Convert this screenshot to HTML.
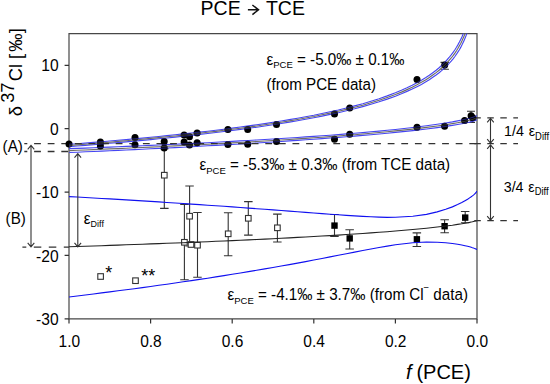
<!DOCTYPE html>
<html><head><meta charset="utf-8"><style>
html,body{margin:0;padding:0;background:#fff;}
body{width:550px;height:384px;overflow:hidden;font-family:"Liberation Sans",sans-serif;}
svg{display:block;}
</style></head><body>
<svg width="550" height="384" viewBox="0 0 550 384" font-family="Liberation Sans, sans-serif">
<defs><clipPath id="pc"><rect x="69" y="33.6" width="408" height="285.3"/></clipPath></defs>
<rect x="0" y="0" width="550" height="384" fill="#fff"/>
<path d="M69 33.6H477V318.9H69Z" fill="none" stroke="#474747" stroke-width="1.2"/>
<path d="M64.6 65.32H69M64.6 128.70H69M64.6 192.08H69M64.6 255.46H69M64.6 318.84H69M69.00 318.9V323.6M150.60 318.9V323.6M232.20 318.9V323.6M313.80 318.9V323.6M395.40 318.9V323.6M477.00 318.9V323.6" stroke="#333" stroke-width="1.2"/>
<path d="M164.3 148.8V208.4M160.1 148.8h8.5M160.1 208.4h8.5M189.6 186.0V246.0M185.3 186.0h8.5M185.3 246.0h8.5M184.4 204.4V279.7M180.2 204.4h8.5M180.2 279.7h8.5M197.5 212.5V277.2M193.2 212.5h8.5M193.2 277.2h8.5M228.2 212.7V255.7M223.9 212.7h8.5M223.9 255.7h8.5M248.3 201.6V235.1M244.1 201.6h8.5M244.1 235.1h8.5M277.4 214.1V242.0M273.1 214.1h8.5M273.1 242.0h8.5M334.5 214.5V236.4M330.2 214.5h8.5M330.2 236.4h8.5M349.7 229.7V249.0M345.4 229.7h8.5M345.4 249.0h8.5M416.9 232.9V246.5M412.6 232.9h8.5M412.6 246.5h8.5M444.6 219.7V232.8M440.4 219.7h8.5M440.4 232.8h8.5M465.2 211.5V222.7M460.9 211.5h8.5M460.9 222.7h8.5M444.7 62.4V69.2M440.5 62.4h8.4M440.5 69.2h8.4M471 111.3V122.5M467 111.3h8M467 122.5h8" stroke="#333" stroke-width="1.1" fill="none"/>
<rect x="161.5" y="172.4" width="5.6" height="5.6" fill="#fff" stroke="#333" stroke-width="1.1"/>
<rect x="186.8" y="213.4" width="5.6" height="5.6" fill="#fff" stroke="#333" stroke-width="1.1"/>
<rect x="181.6" y="239.5" width="5.6" height="5.6" fill="#fff" stroke="#333" stroke-width="1.1"/>
<rect x="194.7" y="242.4" width="5.6" height="5.6" fill="#fff" stroke="#333" stroke-width="1.1"/>
<rect x="225.4" y="231.0" width="5.6" height="5.6" fill="#fff" stroke="#333" stroke-width="1.1"/>
<rect x="245.5" y="215.5" width="5.6" height="5.6" fill="#fff" stroke="#333" stroke-width="1.1"/>
<rect x="274.6" y="225.0" width="5.6" height="5.6" fill="#fff" stroke="#333" stroke-width="1.1"/>
<rect x="188.2" y="241.7" width="5.6" height="5.6" fill="#fff" stroke="#333" stroke-width="1.1"/>
<rect x="97.8" y="273.7" width="5.6" height="5.6" fill="#fff" stroke="#333" stroke-width="1.1"/>
<rect x="132.7" y="277.9" width="5.6" height="5.6" fill="#fff" stroke="#333" stroke-width="1.1"/>
<rect x="331.3" y="222.4" width="6.4" height="6.4" fill="#000"/>
<rect x="346.5" y="235.2" width="6.4" height="6.4" fill="#000"/>
<rect x="413.7" y="236.1" width="6.4" height="6.4" fill="#000"/>
<rect x="441.4" y="223.0" width="6.4" height="6.4" fill="#000"/>
<rect x="462.0" y="214.4" width="6.4" height="6.4" fill="#000"/>
<g clip-path="url(#pc)" fill="none" stroke-width="1.15">
<path d="M69.0 196.6L77.2 197.0L85.3 197.5L93.5 198.0L101.6 198.5L109.8 198.9L118.0 199.4L126.1 199.9L134.3 200.4L142.4 200.9L150.6 201.4L158.8 201.9L166.9 202.5L175.1 203.0L183.2 203.5L191.4 204.1L199.6 204.6L207.7 205.2L215.9 205.8L224.0 206.3L232.2 206.9L240.4 207.5L248.5 208.1L256.7 208.7L264.8 209.3L273.0 209.9L281.2 210.5L289.3 211.1L297.5 211.8L305.6 212.4L313.8 213.0L322.0 213.6L330.1 214.2L338.3 214.8L346.4 215.4L354.6 215.9L362.8 216.4L370.9 216.8L379.1 217.1L387.2 217.3L395.4 217.2L412.8 216.3L426.5 214.4L437.2 211.9L445.7 209.3L452.4 206.9L457.6 204.6L461.8 202.6L465.0 200.8L467.6 199.3L469.6 197.9L471.2 196.8L472.4 195.9L473.4 195.1L474.2 194.4L474.8 193.8L475.2 193.4L475.6 193.0L475.9 192.6L476.1 192.4L476.3 192.2L476.5 192.0L476.6 191.8L476.7 191.7L476.7 191.6L476.8 191.5L477.0 191.2" stroke="#1010f0"/>
<path d="M69.0 297.0L77.2 296.0L85.3 295.0L93.5 294.0L101.6 292.9L109.8 291.9L118.0 290.8L126.1 289.8L134.3 288.7L142.4 287.6L150.6 286.5L158.8 285.3L166.9 284.2L175.1 283.0L183.2 281.8L191.4 280.6L199.6 279.4L207.7 278.2L215.9 276.9L224.0 275.6L232.2 274.3L240.4 273.0L248.5 271.6L256.7 270.3L264.8 268.9L273.0 267.5L281.2 266.0L289.3 264.6L297.5 263.1L305.6 261.6L313.8 260.0L322.0 258.5L330.1 256.9L338.3 255.3L346.4 253.7L354.6 252.1L362.8 250.5L370.9 249.0L379.1 247.5L387.2 246.1L395.4 244.8L412.8 242.7L426.5 242.0L437.2 242.2L445.7 242.7L452.4 243.5L457.6 244.2L461.8 245.0L465.0 245.7L467.6 246.3L469.6 246.8L471.2 247.3L472.4 247.7L473.4 248.0L474.2 248.3L474.8 248.5L475.2 248.7L475.6 248.9L475.9 249.0L476.1 249.1L476.3 249.2L476.5 249.3L476.6 249.4L476.7 249.4L476.7 249.5L476.8 249.5L477.0 249.6" stroke="#1010f0"/>
<path d="M69.0 246.8L77.2 246.5L85.3 246.2L93.5 246.0L101.6 245.7L109.8 245.4L118.0 245.1L126.1 244.8L134.3 244.5L142.4 244.2L150.6 243.9L158.8 243.6L166.9 243.3L175.1 243.0L183.2 242.7L191.4 242.4L199.6 242.0L207.7 241.7L215.9 241.3L224.0 241.0L232.2 240.6L240.4 240.2L248.5 239.9L256.7 239.5L264.8 239.1L273.0 238.7L281.2 238.3L289.3 237.9L297.5 237.4L305.6 237.0L313.8 236.5L322.0 236.0L330.1 235.6L338.3 235.1L346.4 234.5L354.6 234.0L362.8 233.5L370.9 232.9L379.1 232.3L387.2 231.7L395.4 231.0L412.8 229.5L426.5 228.2L437.2 227.0L445.7 226.0L452.4 225.2L457.6 224.4L461.8 223.8L465.0 223.2L467.6 222.8L469.6 222.4L471.2 222.0L472.4 221.8L473.4 221.5L474.2 221.3L474.8 221.2L475.2 221.0L475.6 220.9L475.9 220.8L476.1 220.8L476.3 220.7L476.5 220.6L476.6 220.6L476.7 220.6L476.7 220.5L476.8 220.5L477.0 220.4" stroke="#222"/>
<path d="M69.0 144.3L77.2 143.7L85.3 143.1L93.5 142.4L101.6 141.7L109.8 141.0L118.0 140.3L126.1 139.6L134.3 138.8L142.4 138.1L150.6 137.3L158.8 136.5L166.9 135.6L175.1 134.8L183.2 133.9L191.4 133.0L199.6 132.1L207.7 131.2L215.9 130.2L224.0 129.2L232.2 128.1L240.4 127.0L248.5 125.9L256.7 124.8L264.8 123.6L273.0 122.3L281.2 121.0L289.3 119.6L297.5 118.2L305.6 116.7L313.8 115.2L322.0 113.5L330.1 111.8L338.3 110.0L346.4 108.0L354.6 105.9L362.8 103.7L370.9 101.3L379.1 98.7L387.2 95.9L395.4 92.8L401.4 90.3L407.0 87.8L412.2 85.3L417.0 82.8L421.4 80.3L425.5 77.8L429.3 75.3L432.8 72.7L436.1 70.2L439.1 67.7L441.9 65.1L444.5 62.6L446.9 60.0L449.1 57.5L451.2 54.9L453.1 52.3L454.9 49.8L456.5 47.2L458.0 44.6L459.4 42.0L460.7 39.4L461.9 36.9L463.0 34.3L464.1 31.6L465.0 29.0L465.9 26.4L466.7 23.8L467.5 21.2L468.2 18.5L468.8 15.9" stroke="#4646f2"/>
<path d="M69.0 146.6L77.2 146.0L85.3 145.4L93.5 144.7L101.6 144.0L109.8 143.3L118.0 142.6L126.1 141.9L134.3 141.1L142.4 140.4L150.6 139.6L158.8 138.8L166.9 138.0L175.1 137.1L183.2 136.2L191.4 135.4L199.6 134.4L207.7 133.5L215.9 132.5L224.0 131.5L232.2 130.5L240.4 129.4L248.5 128.3L256.7 127.2L264.8 126.0L273.0 124.8L281.2 123.5L289.3 122.1L297.5 120.7L305.6 119.3L313.8 117.7L322.0 116.1L330.1 114.4L338.3 112.7L346.4 110.8L354.6 108.8L362.8 106.6L370.9 104.3L379.1 101.8L387.2 99.1L395.4 96.2L401.4 93.8L407.0 91.4L412.2 89.1L417.0 86.7L421.4 84.4L425.5 82.0L429.3 79.7L432.8 77.3L436.1 75.0L439.1 72.7L441.9 70.4L444.5 68.0L446.9 65.7L449.1 63.4L451.2 61.1L453.1 58.8L454.9 56.5L456.5 54.2L458.0 51.9L459.4 49.7L460.7 47.4L461.9 45.1L463.0 42.8L464.1 40.6L465.0 38.3L465.9 36.1L466.7 33.9L467.5 31.6L468.2 29.4L468.8 27.2" stroke="#4646f2"/>
<path d="M69.0 145.5L77.2 144.9L85.3 144.2L93.5 143.5L101.6 142.9L109.8 142.2L118.0 141.4L126.1 140.7L134.3 140.0L142.4 139.2L150.6 138.4L158.8 137.6L166.9 136.8L175.1 136.0L183.2 135.1L191.4 134.2L199.6 133.3L207.7 132.3L215.9 131.4L224.0 130.3L232.2 129.3L240.4 128.2L248.5 127.1L256.7 126.0L264.8 124.8L273.0 123.5L281.2 122.2L289.3 120.9L297.5 119.5L305.6 118.0L313.8 116.5L322.0 114.8L330.1 113.1L338.3 111.3L346.4 109.4L354.6 107.3L362.8 105.2L370.9 102.8L379.1 100.3L387.2 97.5L395.4 94.5L401.4 92.1L407.0 89.6L412.2 87.2L417.0 84.8L421.4 82.3L425.5 79.9L429.3 77.5L432.8 75.0L436.1 72.6L439.1 70.2L441.9 67.7L444.5 65.3L446.9 62.9L449.1 60.4L451.2 58.0L453.1 55.6L454.9 53.1L456.5 50.7L458.0 48.3L459.4 45.8L460.7 43.4L461.9 41.0L463.0 38.5L464.1 36.1L465.0 33.7L465.9 31.3L466.7 28.8L467.5 26.4L468.2 24.0L468.8 21.5" stroke="#6e6e66"/>
<path d="M69.0 148.7L77.2 148.4L85.3 148.1L93.5 147.8L101.6 147.4L109.8 147.1L118.0 146.8L126.1 146.4L134.3 146.1L142.4 145.7L150.6 145.4L158.8 145.0L166.9 144.6L175.1 144.3L183.2 143.9L191.4 143.5L199.6 143.1L207.7 142.7L215.9 142.2L224.0 141.8L232.2 141.4L240.4 140.9L248.5 140.5L256.7 140.0L264.8 139.5L273.0 139.0L281.2 138.5L289.3 138.0L297.5 137.5L305.6 136.9L313.8 136.4L322.0 135.8L330.1 135.2L338.3 134.6L346.4 133.9L354.6 133.3L362.8 132.6L370.9 131.8L379.1 131.1L387.2 130.3L395.4 129.5L412.8 127.5L426.5 125.8L437.2 124.3L445.7 123.0L452.4 121.9L457.6 120.9L461.8 120.0L465.0 119.3L467.6 118.7L469.6 118.2L471.2 117.7L472.4 117.4L473.4 117.1L474.2 116.8L474.8 116.6L475.2 116.4L475.6 116.2L475.9 116.1L476.1 116.0L476.3 115.9L476.5 115.9L476.6 115.8L476.7 115.8L476.7 115.7L476.8 115.7L477.0 115.6" stroke="#4646f2"/>
<path d="M69.0 152.5L77.2 152.2L85.3 151.8L93.5 151.5L101.6 151.1L109.8 150.7L118.0 150.4L126.1 150.0L134.3 149.6L142.4 149.2L150.6 148.8L158.8 148.4L166.9 148.0L175.1 147.6L183.2 147.2L191.4 146.7L199.6 146.3L207.7 145.8L215.9 145.4L224.0 144.9L232.2 144.5L240.4 144.0L248.5 143.5L256.7 143.0L264.8 142.5L273.0 142.0L281.2 141.5L289.3 140.9L297.5 140.4L305.6 139.8L313.8 139.2L322.0 138.6L330.1 138.0L338.3 137.4L346.4 136.8L354.6 136.1L362.8 135.4L370.9 134.7L379.1 134.0L387.2 133.2L395.4 132.4L412.8 130.6L426.5 129.0L437.2 127.6L445.7 126.4L452.4 125.4L457.6 124.5L461.8 123.7L465.0 123.1L467.6 122.5L469.6 122.1L471.2 121.7L472.4 121.4L473.4 121.1L474.2 120.9L474.8 120.7L475.2 120.5L475.6 120.4L475.9 120.3L476.1 120.2L476.3 120.1L476.5 120.0L476.6 120.0L476.7 120.0L476.7 119.9L476.8 119.9L477.0 119.8" stroke="#4646f2"/>
<path d="M69.0 150.6L77.2 150.3L85.3 150.0L93.5 149.6L101.6 149.3L109.8 148.9L118.0 148.6L126.1 148.2L134.3 147.8L142.4 147.5L150.6 147.1L158.8 146.7L166.9 146.3L175.1 145.9L183.2 145.5L191.4 145.1L199.6 144.7L207.7 144.3L215.9 143.8L224.0 143.4L232.2 142.9L240.4 142.5L248.5 142.0L256.7 141.5L264.8 141.0L273.0 140.5L281.2 140.0L289.3 139.5L297.5 138.9L305.6 138.4L313.8 137.8L322.0 137.2L330.1 136.6L338.3 136.0L346.4 135.3L354.6 134.7L362.8 134.0L370.9 133.3L379.1 132.5L387.2 131.7L395.4 130.9L412.8 129.1L426.5 127.4L437.2 126.0L445.7 124.7L452.4 123.6L457.6 122.7L461.8 121.9L465.0 121.2L467.6 120.6L469.6 120.1L471.2 119.7L472.4 119.4L473.4 119.1L474.2 118.8L474.8 118.6L475.2 118.5L475.6 118.3L475.9 118.2L476.1 118.1L476.3 118.0L476.5 118.0L476.6 117.9L476.7 117.9L476.7 117.8L476.8 117.8L477.0 117.7" stroke="#6e6e66"/>
</g>
<line x1="24.3" y1="143.7" x2="476" y2="143.7" stroke="#333" stroke-width="1.3" stroke-dasharray="6.8 6.8" stroke-dashoffset="3.8"/>
<line x1="474.3" y1="117.9" x2="518" y2="117.9" stroke="#333" stroke-width="1.3" stroke-dasharray="6.5 6.5"/>
<line x1="474.3" y1="143.7" x2="518" y2="143.7" stroke="#333" stroke-width="1.3" stroke-dasharray="6.5 6.5"/>
<line x1="474.3" y1="220.6" x2="518" y2="220.6" stroke="#333" stroke-width="1.3" stroke-dasharray="6.5 6.5"/>
<line x1="24.3" y1="151.5" x2="69" y2="151.5" stroke="#333" stroke-width="1.3" stroke-dasharray="6.8 6.8" stroke-dashoffset="3.8"/>
<line x1="22.4" y1="247.2" x2="69" y2="247.2" stroke="#333" stroke-width="1.3" stroke-dasharray="7.5 7.5" stroke-dashoffset="3.6"/>
<g fill="#000"><circle cx="69.0" cy="143.9" r="3.5"/><circle cx="100.4" cy="142.0" r="3.5"/><circle cx="100.4" cy="146.0" r="3.5"/><circle cx="135.0" cy="137.4" r="3.5"/><circle cx="135.0" cy="144.8" r="3.5"/><circle cx="164.2" cy="141.4" r="3.5"/><circle cx="164.2" cy="147.9" r="3.5"/><circle cx="184.1" cy="135.0" r="3.5"/><circle cx="184.1" cy="141.9" r="3.5"/><circle cx="189.5" cy="136.8" r="3.5"/><circle cx="189.5" cy="145.0" r="3.5"/><circle cx="197.1" cy="132.9" r="3.5"/><circle cx="197.1" cy="142.7" r="3.5"/><circle cx="227.9" cy="129.6" r="3.5"/><circle cx="227.9" cy="144.5" r="3.5"/><circle cx="247.7" cy="129.6" r="3.5"/><circle cx="247.7" cy="144.3" r="3.5"/><circle cx="276.5" cy="124.6" r="3.5"/><circle cx="276.5" cy="141.6" r="3.5"/><circle cx="334.5" cy="113.9" r="3.5"/><circle cx="334.5" cy="139.2" r="3.5"/><circle cx="349.7" cy="108.0" r="3.5"/><circle cx="349.7" cy="134.2" r="3.5"/><circle cx="417.0" cy="79.5" r="3.5"/><circle cx="417.0" cy="127.3" r="3.5"/><circle cx="444.7" cy="65.0" r="3.5"/><circle cx="444.6" cy="126.2" r="3.5"/><circle cx="464.6" cy="120.6" r="3.5"/><circle cx="471.1" cy="115.8" r="3.5"/><circle cx="472.7" cy="117.7" r="3.5"/></g>
<clipPath id="cc"><circle cx="69.0" cy="143.9" r="3.5"/><circle cx="100.4" cy="142.0" r="3.5"/><circle cx="100.4" cy="146.0" r="3.5"/><circle cx="135.0" cy="137.4" r="3.5"/><circle cx="135.0" cy="144.8" r="3.5"/><circle cx="164.2" cy="141.4" r="3.5"/><circle cx="164.2" cy="147.9" r="3.5"/><circle cx="184.1" cy="135.0" r="3.5"/><circle cx="184.1" cy="141.9" r="3.5"/><circle cx="189.5" cy="136.8" r="3.5"/><circle cx="189.5" cy="145.0" r="3.5"/><circle cx="197.1" cy="132.9" r="3.5"/><circle cx="197.1" cy="142.7" r="3.5"/><circle cx="227.9" cy="129.6" r="3.5"/><circle cx="227.9" cy="144.5" r="3.5"/><circle cx="247.7" cy="129.6" r="3.5"/><circle cx="247.7" cy="144.3" r="3.5"/><circle cx="276.5" cy="124.6" r="3.5"/><circle cx="276.5" cy="141.6" r="3.5"/><circle cx="334.5" cy="113.9" r="3.5"/><circle cx="334.5" cy="139.2" r="3.5"/><circle cx="349.7" cy="108.0" r="3.5"/><circle cx="349.7" cy="134.2" r="3.5"/><circle cx="417.0" cy="79.5" r="3.5"/><circle cx="417.0" cy="127.3" r="3.5"/><circle cx="444.7" cy="65.0" r="3.5"/><circle cx="444.6" cy="126.2" r="3.5"/><circle cx="464.6" cy="120.6" r="3.5"/><circle cx="471.1" cy="115.8" r="3.5"/><circle cx="472.7" cy="117.7" r="3.5"/></clipPath>
<g clip-path="url(#cc)" fill="none" stroke-width="1.15" opacity="0.45"><path d="M69.0 144.3L77.2 143.7L85.3 143.1L93.5 142.4L101.6 141.7L109.8 141.0L118.0 140.3L126.1 139.6L134.3 138.8L142.4 138.1L150.6 137.3L158.8 136.5L166.9 135.6L175.1 134.8L183.2 133.9L191.4 133.0L199.6 132.1L207.7 131.2L215.9 130.2L224.0 129.2L232.2 128.1L240.4 127.0L248.5 125.9L256.7 124.8L264.8 123.6L273.0 122.3L281.2 121.0L289.3 119.6L297.5 118.2L305.6 116.7L313.8 115.2L322.0 113.5L330.1 111.8L338.3 110.0L346.4 108.0L354.6 105.9L362.8 103.7L370.9 101.3L379.1 98.7L387.2 95.9L395.4 92.8L401.4 90.3L407.0 87.8L412.2 85.3L417.0 82.8L421.4 80.3L425.5 77.8L429.3 75.3L432.8 72.7L436.1 70.2L439.1 67.7L441.9 65.1L444.5 62.6L446.9 60.0L449.1 57.5L451.2 54.9L453.1 52.3L454.9 49.8L456.5 47.2L458.0 44.6L459.4 42.0L460.7 39.4L461.9 36.9L463.0 34.3L464.1 31.6L465.0 29.0L465.9 26.4L466.7 23.8L467.5 21.2L468.2 18.5L468.8 15.9" stroke="#4646f2"/><path d="M69.0 146.6L77.2 146.0L85.3 145.4L93.5 144.7L101.6 144.0L109.8 143.3L118.0 142.6L126.1 141.9L134.3 141.1L142.4 140.4L150.6 139.6L158.8 138.8L166.9 138.0L175.1 137.1L183.2 136.2L191.4 135.4L199.6 134.4L207.7 133.5L215.9 132.5L224.0 131.5L232.2 130.5L240.4 129.4L248.5 128.3L256.7 127.2L264.8 126.0L273.0 124.8L281.2 123.5L289.3 122.1L297.5 120.7L305.6 119.3L313.8 117.7L322.0 116.1L330.1 114.4L338.3 112.7L346.4 110.8L354.6 108.8L362.8 106.6L370.9 104.3L379.1 101.8L387.2 99.1L395.4 96.2L401.4 93.8L407.0 91.4L412.2 89.1L417.0 86.7L421.4 84.4L425.5 82.0L429.3 79.7L432.8 77.3L436.1 75.0L439.1 72.7L441.9 70.4L444.5 68.0L446.9 65.7L449.1 63.4L451.2 61.1L453.1 58.8L454.9 56.5L456.5 54.2L458.0 51.9L459.4 49.7L460.7 47.4L461.9 45.1L463.0 42.8L464.1 40.6L465.0 38.3L465.9 36.1L466.7 33.9L467.5 31.6L468.2 29.4L468.8 27.2" stroke="#4646f2"/><path d="M69.0 145.5L77.2 144.9L85.3 144.2L93.5 143.5L101.6 142.9L109.8 142.2L118.0 141.4L126.1 140.7L134.3 140.0L142.4 139.2L150.6 138.4L158.8 137.6L166.9 136.8L175.1 136.0L183.2 135.1L191.4 134.2L199.6 133.3L207.7 132.3L215.9 131.4L224.0 130.3L232.2 129.3L240.4 128.2L248.5 127.1L256.7 126.0L264.8 124.8L273.0 123.5L281.2 122.2L289.3 120.9L297.5 119.5L305.6 118.0L313.8 116.5L322.0 114.8L330.1 113.1L338.3 111.3L346.4 109.4L354.6 107.3L362.8 105.2L370.9 102.8L379.1 100.3L387.2 97.5L395.4 94.5L401.4 92.1L407.0 89.6L412.2 87.2L417.0 84.8L421.4 82.3L425.5 79.9L429.3 77.5L432.8 75.0L436.1 72.6L439.1 70.2L441.9 67.7L444.5 65.3L446.9 62.9L449.1 60.4L451.2 58.0L453.1 55.6L454.9 53.1L456.5 50.7L458.0 48.3L459.4 45.8L460.7 43.4L461.9 41.0L463.0 38.5L464.1 36.1L465.0 33.7L465.9 31.3L466.7 28.8L467.5 26.4L468.2 24.0L468.8 21.5" stroke="#6e6e66"/><path d="M69.0 148.7L77.2 148.4L85.3 148.1L93.5 147.8L101.6 147.4L109.8 147.1L118.0 146.8L126.1 146.4L134.3 146.1L142.4 145.7L150.6 145.4L158.8 145.0L166.9 144.6L175.1 144.3L183.2 143.9L191.4 143.5L199.6 143.1L207.7 142.7L215.9 142.2L224.0 141.8L232.2 141.4L240.4 140.9L248.5 140.5L256.7 140.0L264.8 139.5L273.0 139.0L281.2 138.5L289.3 138.0L297.5 137.5L305.6 136.9L313.8 136.4L322.0 135.8L330.1 135.2L338.3 134.6L346.4 133.9L354.6 133.3L362.8 132.6L370.9 131.8L379.1 131.1L387.2 130.3L395.4 129.5L412.8 127.5L426.5 125.8L437.2 124.3L445.7 123.0L452.4 121.9L457.6 120.9L461.8 120.0L465.0 119.3L467.6 118.7L469.6 118.2L471.2 117.7L472.4 117.4L473.4 117.1L474.2 116.8L474.8 116.6L475.2 116.4L475.6 116.2L475.9 116.1L476.1 116.0L476.3 115.9L476.5 115.9L476.6 115.8L476.7 115.8L476.7 115.7L476.8 115.7L477.0 115.6" stroke="#4646f2"/><path d="M69.0 152.5L77.2 152.2L85.3 151.8L93.5 151.5L101.6 151.1L109.8 150.7L118.0 150.4L126.1 150.0L134.3 149.6L142.4 149.2L150.6 148.8L158.8 148.4L166.9 148.0L175.1 147.6L183.2 147.2L191.4 146.7L199.6 146.3L207.7 145.8L215.9 145.4L224.0 144.9L232.2 144.5L240.4 144.0L248.5 143.5L256.7 143.0L264.8 142.5L273.0 142.0L281.2 141.5L289.3 140.9L297.5 140.4L305.6 139.8L313.8 139.2L322.0 138.6L330.1 138.0L338.3 137.4L346.4 136.8L354.6 136.1L362.8 135.4L370.9 134.7L379.1 134.0L387.2 133.2L395.4 132.4L412.8 130.6L426.5 129.0L437.2 127.6L445.7 126.4L452.4 125.4L457.6 124.5L461.8 123.7L465.0 123.1L467.6 122.5L469.6 122.1L471.2 121.7L472.4 121.4L473.4 121.1L474.2 120.9L474.8 120.7L475.2 120.5L475.6 120.4L475.9 120.3L476.1 120.2L476.3 120.1L476.5 120.0L476.6 120.0L476.7 120.0L476.7 119.9L476.8 119.9L477.0 119.8" stroke="#4646f2"/><path d="M69.0 150.6L77.2 150.3L85.3 150.0L93.5 149.6L101.6 149.3L109.8 148.9L118.0 148.6L126.1 148.2L134.3 147.8L142.4 147.5L150.6 147.1L158.8 146.7L166.9 146.3L175.1 145.9L183.2 145.5L191.4 145.1L199.6 144.7L207.7 144.3L215.9 143.8L224.0 143.4L232.2 142.9L240.4 142.5L248.5 142.0L256.7 141.5L264.8 141.0L273.0 140.5L281.2 140.0L289.3 139.5L297.5 138.9L305.6 138.4L313.8 137.8L322.0 137.2L330.1 136.6L338.3 136.0L346.4 135.3L354.6 134.7L362.8 134.0L370.9 133.3L379.1 132.5L387.2 131.7L395.4 130.9L412.8 129.1L426.5 127.4L437.2 126.0L445.7 124.7L452.4 123.6L457.6 122.7L461.8 121.9L465.0 121.2L467.6 120.6L469.6 120.1L471.2 119.7L472.4 119.4L473.4 119.1L474.2 118.8L474.8 118.6L475.2 118.5L475.6 118.3L475.9 118.2L476.1 118.1L476.3 118.0L476.5 118.0L476.6 117.9L476.7 117.9L476.7 117.8L476.8 117.8L477.0 117.7" stroke="#6e6e66"/></g>
<text x="58.6" y="71.3" font-size="15.6" text-anchor="end">10</text>
<text x="58.6" y="134.7" font-size="15.6" text-anchor="end">0</text>
<text x="58.6" y="198.1" font-size="15.6" text-anchor="end">-10</text>
<text x="58.6" y="261.5" font-size="15.6" text-anchor="end">-20</text>
<text x="58.6" y="324.8" font-size="15.6" text-anchor="end">-30</text>
<text transform="translate(69.3 346.6) scale(1.0 1.07)" font-size="15.5" text-anchor="middle">1.0</text>
<text transform="translate(150.9 346.6) scale(1.0 1.07)" font-size="15.5" text-anchor="middle">0.8</text>
<text transform="translate(232.5 346.6) scale(1.0 1.07)" font-size="15.5" text-anchor="middle">0.6</text>
<text transform="translate(314.1 346.6) scale(1.0 1.07)" font-size="15.5" text-anchor="middle">0.4</text>
<text transform="translate(395.7 346.6) scale(1.0 1.07)" font-size="15.5" text-anchor="middle">0.2</text>
<text transform="translate(477.3 346.6) scale(1.0 1.07)" font-size="15.5" text-anchor="middle">0.0</text>
<text x="200.6" y="14.6" font-size="19.5">PCE</text>
<text x="265.9" y="14.6" font-size="19.5">TCE</text>
<path d="M247.9 9.8H258.3M252.4 5.0L258.5 9.8L252.4 14.6" stroke="#111" stroke-width="1.5" fill="none"/>
<text x="406.0" y="379.0" font-size="20"><tspan font-style="italic">f</tspan><tspan dx="-0.7"> (PCE)</tspan></text>
<text transform="translate(21.6,116.2) rotate(-90)" font-size="18.3">δ <tspan dy="-7.6" dx="-1.9">37</tspan><tspan dy="7.6" dx="1.2">Cl [</tspan><tspan dx="2.2">‰</tspan><tspan dx="0.2">]</tspan></text>
<text transform="translate(266.5 64.7) scale(1.0 1.03)" font-size="15.2">ε<tspan font-size="9.5" dy="3.6">PCE</tspan><tspan dy="-3.6"> = -5.0‰ ± 0.1‰</tspan></text>
<text transform="translate(266.4 89.8) scale(1.0 1.03)" font-size="15.2">(from PCE data)</text>
<text transform="translate(199.5 170.3) scale(1.0 1.03)" font-size="15.2">ε<tspan font-size="9.5" dy="3.6">PCE</tspan><tspan dy="-3.6"> = -5.3‰ ± 0.3‰ (from TCE data)</tspan></text>
<text transform="translate(227.5 299.9) scale(1.0 1.03)" font-size="15.2">ε<tspan font-size="9.5" dy="3.6">PCE</tspan><tspan dy="-3.6"> = -4.1‰ ± 3.7‰ (from Cl</tspan><tspan font-size="9.5" dy="-9">−</tspan><tspan dy="9"> data)</tspan></text>
<text transform="translate(2.6 152.2) scale(1.0 1.03)" font-size="15.2">(A)</text>
<text transform="translate(5.6 224.4) scale(1.0 1.03)" font-size="15.2">(B)</text>
<text transform="translate(83.8 224.0) scale(1.0 1.03)" font-size="15.2">ε<tspan font-size="9.0" dy="2.6">Diff</tspan><tspan dy="-2.6"></tspan></text>
<text transform="translate(504.1 136.1) scale(1.0 1.07)" font-size="14.3">1/4 <tspan dx="0.8">ε</tspan><tspan font-size="9.4" dy="3.3">Diff</tspan></text>
<text transform="translate(503.7 191.6) scale(1.0 1.07)" font-size="14.3">3/4 <tspan dx="0.8">ε</tspan><tspan font-size="9.4" dy="3.5">Diff</tspan></text>
<text x="105.3" y="278.9" font-size="18">*</text>
<text x="141.2" y="282.2" font-size="18">**</text>
<path d="M31.0 145.4V246.8M27.7 149.4L31.0 145.4L34.3 149.4M27.7 242.8L31.0 246.8L34.3 242.8M77.8 153.6V246.8M74.5 157.6L77.8 153.6L81.1 157.6M74.5 242.8L77.8 246.8L81.1 242.8M490.5 118.4V143.2M487.2 122.4L490.5 118.4L493.8 122.4M487.2 139.2L490.5 143.2L493.8 139.2M490.5 144.8V220.2M487.2 148.8L490.5 144.8L493.8 148.8M487.2 216.2L490.5 220.2L493.8 216.2" stroke="#333" stroke-width="1.1" fill="none"/>
</svg>
</body></html>
